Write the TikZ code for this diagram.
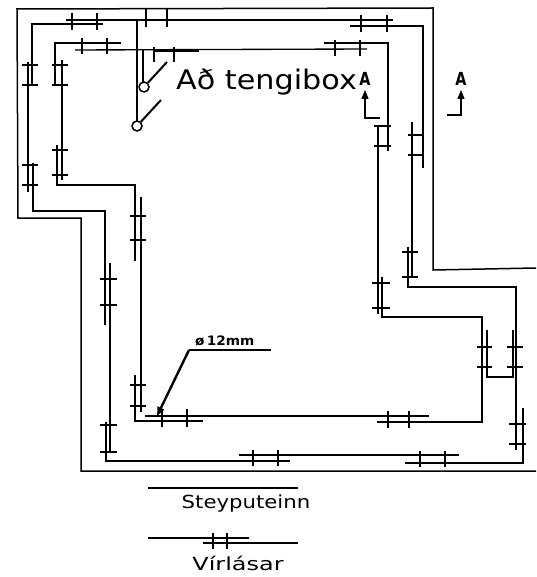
\documentclass[tikz,border=0pt]{standalone}
\usepackage{fontspec}
\setmainfont{DejaVu Sans}
\usetikzlibrary{arrows.meta}
\tikzset{
  wire/.style={line width=1.35pt,line join=miter,black},
  outerwall/.style={line width=1.5pt,black},
  tickmark/.style={line width=1.4pt,black},
  thickwire/.style={line width=2pt,black},
  lab/.style={inner sep=0pt,text=black}
}
\newcommand{\hticks}[4]{\foreach \yy in {#4}{\draw[tickmark] (#1,\yy)--(#2,\yy);}}
\newcommand{\vticks}[4]{\foreach \xx in {#4}{\draw[tickmark] (\xx,#1)--(\xx,#2);}}
\begin{document}
\begin{tikzpicture}[x=1pt,y=-1pt]
\useasboundingbox (0,0) rectangle (536,577);
\fill[white] (0,0) rectangle (536,577);
% outer wall
\draw[outerwall] (536,268)--(433,270)--(433,8)--(17,9)--(18,218)--(81,218)--(81,471)--(536,471);
% outer rebar ring
\draw[wire] (103,24)--(32,24)--(32,85);
\draw[wire] (66,20)--(393,20);
\draw[wire] (350,26)--(423,26)--(423,168);
\draw[wire] (28,62)--(28,192);
\draw[wire] (33,163)--(33,211)--(105,211)--(105,325);
\draw[wire] (110,263)--(110,452);
\draw[wire] (106,422)--(106,461)--(290,461);
\draw[wire] (239,455)--(459,455);
\draw[wire] (405,463)--(523,463)--(523,408);
\draw[wire] (516,450)--(516,287)--(408,287)--(408,247);
\draw[wire] (412,122)--(412,277);
\draw[thickwire] (513,330)--(513,377)--(487,377)--(487,330);
% inner rebar ring
\draw[wire] (121,43)--(55,43)--(55,85);
\draw[wire] (75,50)--(367,49);
\draw[wire] (324,43)--(388,43)--(388,151);
\draw[wire] (378,125)--(378,314);
\draw[wire] (382,277)--(382,317)--(482,317)--(482,422)--(377,422);
\draw[wire] (145,416)--(429,416);
\draw[wire] (62,60)--(62,180);
\draw[wire] (57,145)--(57,185)--(135,185)--(135,261);
\draw[wire] (141,197)--(141,412);
\draw[wire] (135,375)--(135,421)--(203,421);
% ticks
\vticks{13}{30}{x}{72,97}
\vticks{15}{32}{x}{361,387}
\vticks{38}{54}{x}{82,107}
\vticks{40}{56}{x}{335,360}
\vticks{9}{27}{x}{146,167}
\vticks{47}{62}{x}{154,174}
\vticks{409}{427}{x}{162,187}
\vticks{411}{428}{x}{388,409}
\vticks{450}{466}{x}{253,278}
\vticks{451}{467}{x}{420,445}
\vticks{533}{549}{x}{213,227}
\hticks{22}{38}{y}{65,85}
\hticks{22}{38}{y}{165,185}
\hticks{52}{68}{y}{65,85}
\hticks{52}{68}{y}{150,175}
\hticks{130}{146}{y}{216,240}
\hticks{100}{117}{y}{279,305}
\hticks{130}{146}{y}{385,406}
\hticks{100}{117}{y}{425,452}
\hticks{374}{391}{y}{126,146}
\hticks{408}{424}{y}{135,155}
\hticks{402}{418}{y}{252,277}
\hticks{372}{390}{y}{283,308}
\hticks{477}{492}{y}{347,367}
\hticks{507}{523}{y}{347,367}
\hticks{509}{526}{y}{424,444}
% terminal box
\draw[thickwire] (137,20)--(186,20);
\draw[thickwire] (155,51)--(199,51);
\draw[wire] (137,20)--(137,121);
\draw[thickwire] (143,50)--(143,82);
\node[draw,circle,line width=1.5pt,minimum size=10pt,inner sep=0pt] (c1) at (144,87) {};
\node[draw,circle,line width=1.5pt,minimum size=10pt,inner sep=0pt] (c2) at (137,126) {};
\coordinate (s1) at (167,62);
\coordinate (s2) at (161,100);
\draw[thickwire] (c1)--(s1);
\draw[thickwire] (c2)--(s2);
\node[inner sep=0pt,anchor=west] (t) at (176,82) {\scalebox{1.12}[1]{\fontsize{27}{30}\selectfont Að tengibox}};
% section marks
\node[lab,font=\fontsize{18}{20}\selectfont\bfseries] (a1) at (365,79) {\scalebox{0.8}[1]{A}};
\node[lab,font=\fontsize{18}{20}\selectfont\bfseries] (a2) at (461,79) {\scalebox{0.8}[1]{A}};
\coordinate (b1) at (380,118);
\coordinate (e1) at (365,90);
\coordinate (b2) at (447,115);
\coordinate (e2) at (461,90);
\draw[wire,-{Triangle[length=9pt,width=7pt]}] (b1)--(365,118)--(e1);
\draw[wire,-{Triangle[length=9pt,width=7pt]}] (b2)--(461,115)--(e2);
% leader
\node[lab,anchor=west,font=\fontsize{13}{15}\selectfont\bfseries] (d) at (195,341) {\scalebox{1.05}[1]{ø\,12mm}};
\coordinate (l0) at (271,350);
\coordinate (l1) at (189,350);
\coordinate (l2) at (157,416);
\draw[wire] (l0)--(l1);
\draw[line width=2.4pt,-{Triangle[length=9pt,width=7pt]}] (l1)--(l2);
% legend
\draw[wire] (148,488)--(298,488);
\node[lab,font=\fontsize{18}{20}\selectfont] (st) at (246,504) {\scalebox{1.18}[1]{Steyputeinn}};
\draw[wire] (148,538)--(249,538);
\draw[wire] (203,543)--(298,543);
\node[lab,font=\fontsize{18}{20}\selectfont] (vi) at (238,563) {\scalebox{1.33}[1]{Vírlásar}};
\end{tikzpicture}
\end{document}
